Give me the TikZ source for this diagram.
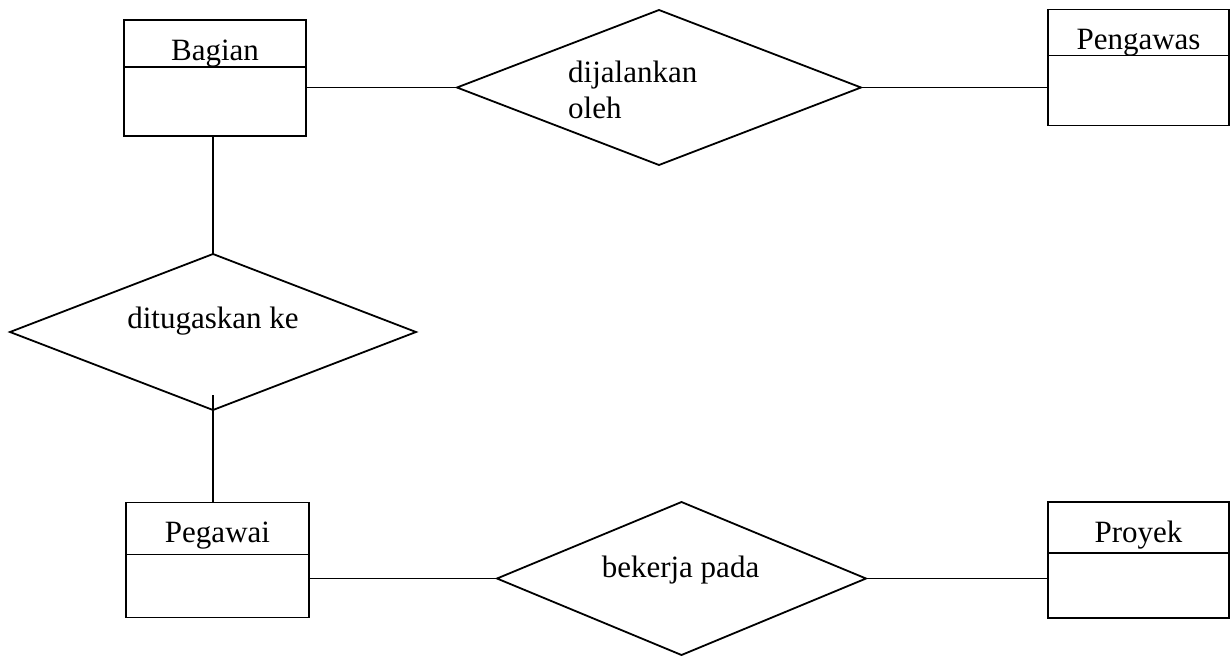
\documentclass[tikz,border=0pt]{standalone}
\usepackage{fontspec}
\setmainfont{Liberation Serif}
\usetikzlibrary{positioning,shapes.geometric}
\tikzset{
      entityhead/.style={
        draw,
        line width=1.8pt,
        outer sep=0pt,
        inner sep=0pt,
        minimum width=182pt,
        text height=40pt,
        font=\fontsize{31}{36}\selectfont
      },
      entitybody/.style={
        draw,
        line width=1.8pt,
        outer sep=0pt,
        inner sep=0pt,
        minimum width=182pt
      },
      relation/.style={
        diamond,
        draw,
        line width=1.8pt,
        outer sep=0pt,
        inner sep=0pt
      },
      reltext/.style={
        inner sep=0pt,
        anchor=base,
        font=\fontsize{31}{36}\selectfont
      },
      link/.style={line width=1.8pt}
    }
\begin{document}
\begin{tikzpicture}[x=1pt,y=-1pt]
    \useasboundingbox (0,0) rectangle (1231,656);
    % entities
    \node[entityhead, text depth=7pt] (bagian) at (215,43.5) {Bagian};
    \node[entitybody, minimum height=69pt, below=0pt of bagian] (bagianbody) {};
    \node[entityhead, minimum width=181pt, text depth=6pt] (pengawas) at (1138.5,32.5) {Pengawas};
    \node[entitybody, minimum width=181pt, minimum height=70pt, below=0pt of pengawas] (pengawasbody) {};
    \node[entityhead, minimum width=183pt, text depth=12pt] (pegawai) at (217.5,528.5) {Pegawai};
    \node[entitybody, minimum width=183pt, minimum height=63pt, below=0pt of pegawai] (pegawaibody) {};
    \node[entityhead, minimum width=181pt, text depth=11pt] (proyek) at (1138.5,527.5) {Proyek};
    \node[entitybody, minimum width=181pt, minimum height=65pt, below=0pt of proyek] (proyekbody) {};
    % relationships
    \node[relation, minimum width=404pt, minimum height=155pt] (dijalankan) at (659,87.5) {};
    \node[relation, minimum width=406pt, minimum height=156pt] (ditugaskan) at (213,332) {};
    \node[relation, minimum width=369pt, minimum height=153pt] (bekerja) at (681.5,578.5) {};
    \node[reltext, anchor=base west, align=left] (dijalankantext) at (568,118) {dijalankan\\oleh};
    \node[reltext] (ditugaskantext) at (213,328) {ditugaskan ke};
    \node[reltext] (bekerjatext) at (680.5,577) {bekerja pada};
    % links
    \draw[link] (bagianbody.east |- dijalankan.west) -- (dijalankan.west);
    \draw[link] (dijalankan.east) -- (dijalankan.east -| pengawasbody.west);
    \draw[link] (ditugaskan.north |- bagianbody.south) -- (ditugaskan.north);
    \draw[link] ([yshift=15pt]ditugaskan.south) -- (ditugaskan.south |- pegawai.north);
    \draw[link] (pegawaibody.east |- bekerja.west) -- (bekerja.west);
    \draw[link] (bekerja.east) -- (bekerja.east -| proyekbody.west);
    \end{tikzpicture}
\end{document}
